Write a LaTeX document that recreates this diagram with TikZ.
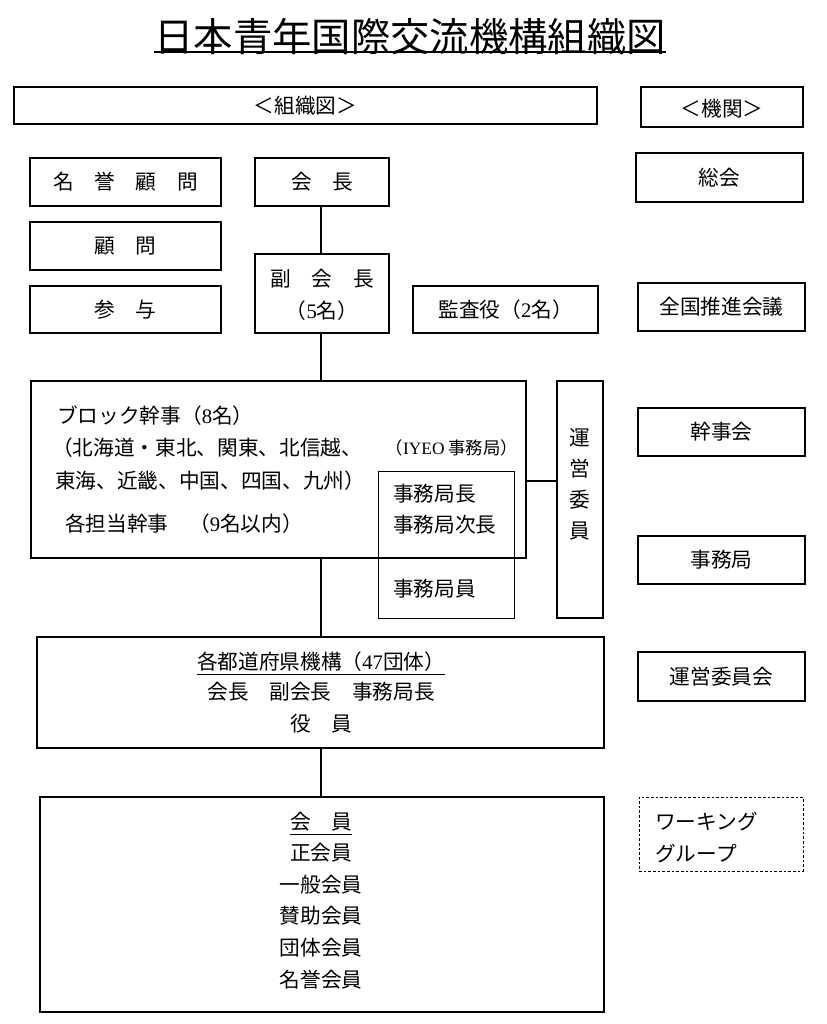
\documentclass[tikz,border=0pt]{standalone}
\usepackage{fontspec}
\setmainfont{Noto Sans CJK JP}
\newfontfamily\lat{Liberation Serif}
\usetikzlibrary{fit}
\begin{document}
\begin{tikzpicture}[x=0.75pt,y=-0.75pt,
  box/.style={draw,line width=0.9pt,inner sep=0pt},
  thinbox/.style={draw,line width=0.6pt,inner sep=0pt},
  dbox/.style={draw,line width=0.6pt,dashed,dash pattern=on 2pt off 1.5pt,inner sep=0pt},
  txt/.style={inner sep=0pt,font=\fontsize{15.5}{24}\selectfont},
  small/.style={inner sep=0pt,font=\fontsize{13}{15}\selectfont},
  conn/.style={line width=0.9pt}]
\useasboundingbox (0,0) rectangle (827,1024);
\fill[white] (0,0) rectangle (827,1024);

% title
\node[inner sep=0pt,font=\fontsize{29.5}{34}\selectfont] (title) at (410,37) {日本青年国際交流機構組織図};
\coordinate (ul) at (0,52);
\draw[line width=1.2pt] (title.west |- ul) -- (title.east |- ul);

% headers
\node[box, fit={(14,87) (597,124)}] (hdrL) {};
\node[txt] (hdrLt) at (hdrL.center) {＜組織図＞};
\node[box, fit={(641,87) (803,127)}] (hdrR) {};
\node[txt] (hdrRt) at ([yshift=-1pt]hdrR.center) {＜機関＞};

% left column
\node[box, fit={(30,158) (221,206)}] (meiyo) {};
\node[txt] (meiyot) at (meiyo.center) {名　誉　顧　問};
\node[box, fit={(255,158) (389,206)}] (kaicho) {};
\node[txt] (kaichot) at (kaicho.center) {会　長};
\node[box, fit={(30,222) (221,270)}] (komon) {};
\node[txt] (komont) at (komon.center) {顧　問};
\node[box, fit={(255,254) (389,333)}] (fuku) {};
\node[txt] (fuku1) at (322,279) {副　会　長};
\node[txt] (fuku2) at (322,311) {（{\lat 5}名）};
\node[box, fit={(30,286) (221,333)}] (sanyo) {};
\node[txt] (sanyot) at (sanyo.center) {参　与};
\node[box, fit={(413,286) (598,333)}] (kansa) {};
\node[txt] (kansat) at (kansa.center) {監査役（{\lat 2}名）};

% block
\node[box, fit={(31,381) (526,558)}] (block) {};
\node[txt, anchor=west] (b1) at (57,416) {ブロック幹事（{\lat 8}名）};
\node[txt, anchor=west] (b2) at (52,448) {（北海道・東北、関東、北信越、};
\node[txt, anchor=west] (b3) at (55,481) {東海、近畿、中国、四国、九州）};
\node[txt, anchor=west] (b4) at (65,524) {各担当幹事　（{\lat 9}名以内）};
\node[small, anchor=east] (iyeo) at (518,448) {（{\lat IYEO} 事務局）};

\node[thinbox, fit={(378,471) (514,618)}] (staff) {};
\node[txt, anchor=west] (s1) at (393,494) {事務局長};
\node[txt, anchor=west] (s2) at (393,525) {事務局次長};
\node[txt, anchor=west] (s3) at (393,589) {事務局員};

\node[box, fit={(557,381) (603,618)}] (uneiV) {};
\node[txt, align=center, font=\fontsize{15.5}{23.25}\selectfont] (uv) at (580,484) {運\\営\\委\\員};

% prefectures
\node[box, fit={(37,637) (604,748)}] (pref) {};
\node[txt] (p1) at (321,662) {各都道府県機構（{\lat 47}団体）};
\draw[line width=0.6pt] ([yshift=-3.5pt]p1.base west) -- ([yshift=-3.5pt]p1.base east);
\node[txt] (p2) at (321,692) {会長　副会長　事務局長};
\node[txt] (p3) at (321,724) {役　員};

% members
\node[box, fit={(40,797) (604,1012)}] (member) {};
\node[txt] (m1) at (321,822) {会　員};
\draw[line width=0.6pt] ([yshift=-3.5pt]m1.base west) -- ([yshift=-3.5pt]m1.base east);
\node[txt] (m2) at (321,853) {正会員};
\node[txt] (m3) at (321,885) {一般会員};
\node[txt] (m4) at (321,916) {賛助会員};
\node[txt] (m5) at (321,948) {団体会員};
\node[txt] (m6) at (321,980) {名誉会員};

% right column
\node[box, fit={(636,153) (803,202)}] (sokai) {};
\node[txt] (sokait) at (sokai.center) {総会};
\node[box, fit={(638,283) (805,331)}] (zenkoku) {};
\node[txt] (zenkokut) at (zenkoku.center) {全国推進会議};
\node[box, fit={(638,408) (805,456)}] (kanjikai) {};
\node[txt] (kanjikait) at (kanjikai.center) {幹事会};
\node[box, fit={(638,536) (805,584)}] (jimukyoku) {};
\node[txt] (jimukyokut) at (jimukyoku.center) {事務局};
\node[box, fit={(638,652) (805,701)}] (uneikai) {};
\node[txt] (uneikait) at (uneikai.center) {運営委員会};
\node[dbox, fit={(639,797) (803,871)}] (wg) {};
\node[txt, anchor=west] (w1) at (655,822) {ワーキング};
\node[txt, anchor=west] (w2) at (655,854) {グループ};

% connectors
\coordinate (trunk) at (321,0);
\coordinate (side) at (0,481);
\draw[conn] (kaicho.south -| trunk) -- (fuku.north -| trunk);
\draw[conn] (fuku.south -| trunk) -- (block.north -| trunk);
\draw[conn] (block.south -| trunk) -- (pref.north -| trunk);
\draw[conn] (pref.south -| trunk) -- (member.north -| trunk);
\draw[conn] (block.east |- side) -- (uneiV.west |- side);
\end{tikzpicture}
\end{document}
